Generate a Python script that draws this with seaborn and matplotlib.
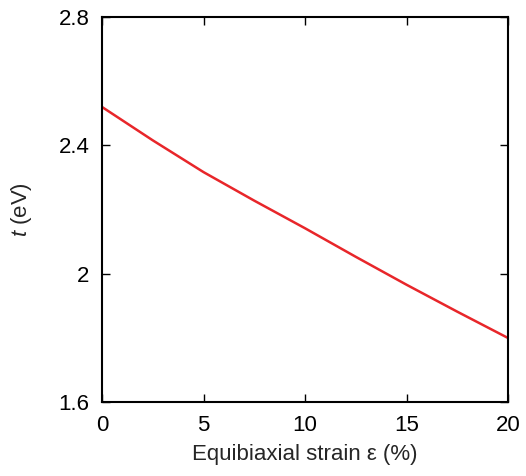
import numpy as np
import pandas as pd
import matplotlib
matplotlib.use('Agg')
import matplotlib.pyplot as plt
import seaborn as sns

# strain (%) and hopping energy t (eV)
strain = [0, 2.5, 5, 7.5, 10, 12.5, 15, 17.5, 20]
t_ev = [2.52, 2.416, 2.317, 2.228, 2.142, 2.053, 1.966, 1.882, 1.80]
xticks = [0, 5, 10, 15, 20]
yticks = [1.6, 2.0, 2.4, 2.8]
ytick_labels = ['1.6', '2', '2.4', '2.8']

df = pd.DataFrame({'strain': strain, 't': t_ev})

sns.set_style('ticks')
plt.rcParams['font.family'] = ['Liberation Sans', 'DejaVu Sans']
plt.rcParams['mathtext.fontset'] = 'custom'
plt.rcParams['mathtext.it'] = 'Liberation Sans:italic'
plt.rcParams['mathtext.rm'] = 'Liberation Sans'

fig = plt.figure(figsize=(5.26, 4.76), dpi=100)
ax = fig.add_axes([0.194, 0.155, 0.772, 0.809])

sns.lineplot(data=df, x='strain', y='t', color='#e8262a', linewidth=1.8, ax=ax)

ax.set_xlim(0, 20)
ax.set_ylim(1.6, 2.8)
ax.set_xticks(xticks)
ax.set_yticks(yticks)
ax.set_yticklabels(ytick_labels)
ax.tick_params(direction='in', length=6, width=1, top=True, right=True,
               labelsize=16, pad=9, colors='black')
for s in ax.spines.values():
    s.set_linewidth(1.5)
    s.set_color('black')

ax.set_xlabel('Equibiaxial strain ε (%)', fontsize=16, labelpad=6)
ax.set_ylabel('$t$ (eV)', fontsize=16, labelpad=18)

fig.savefig('out.png', dpi=100)
